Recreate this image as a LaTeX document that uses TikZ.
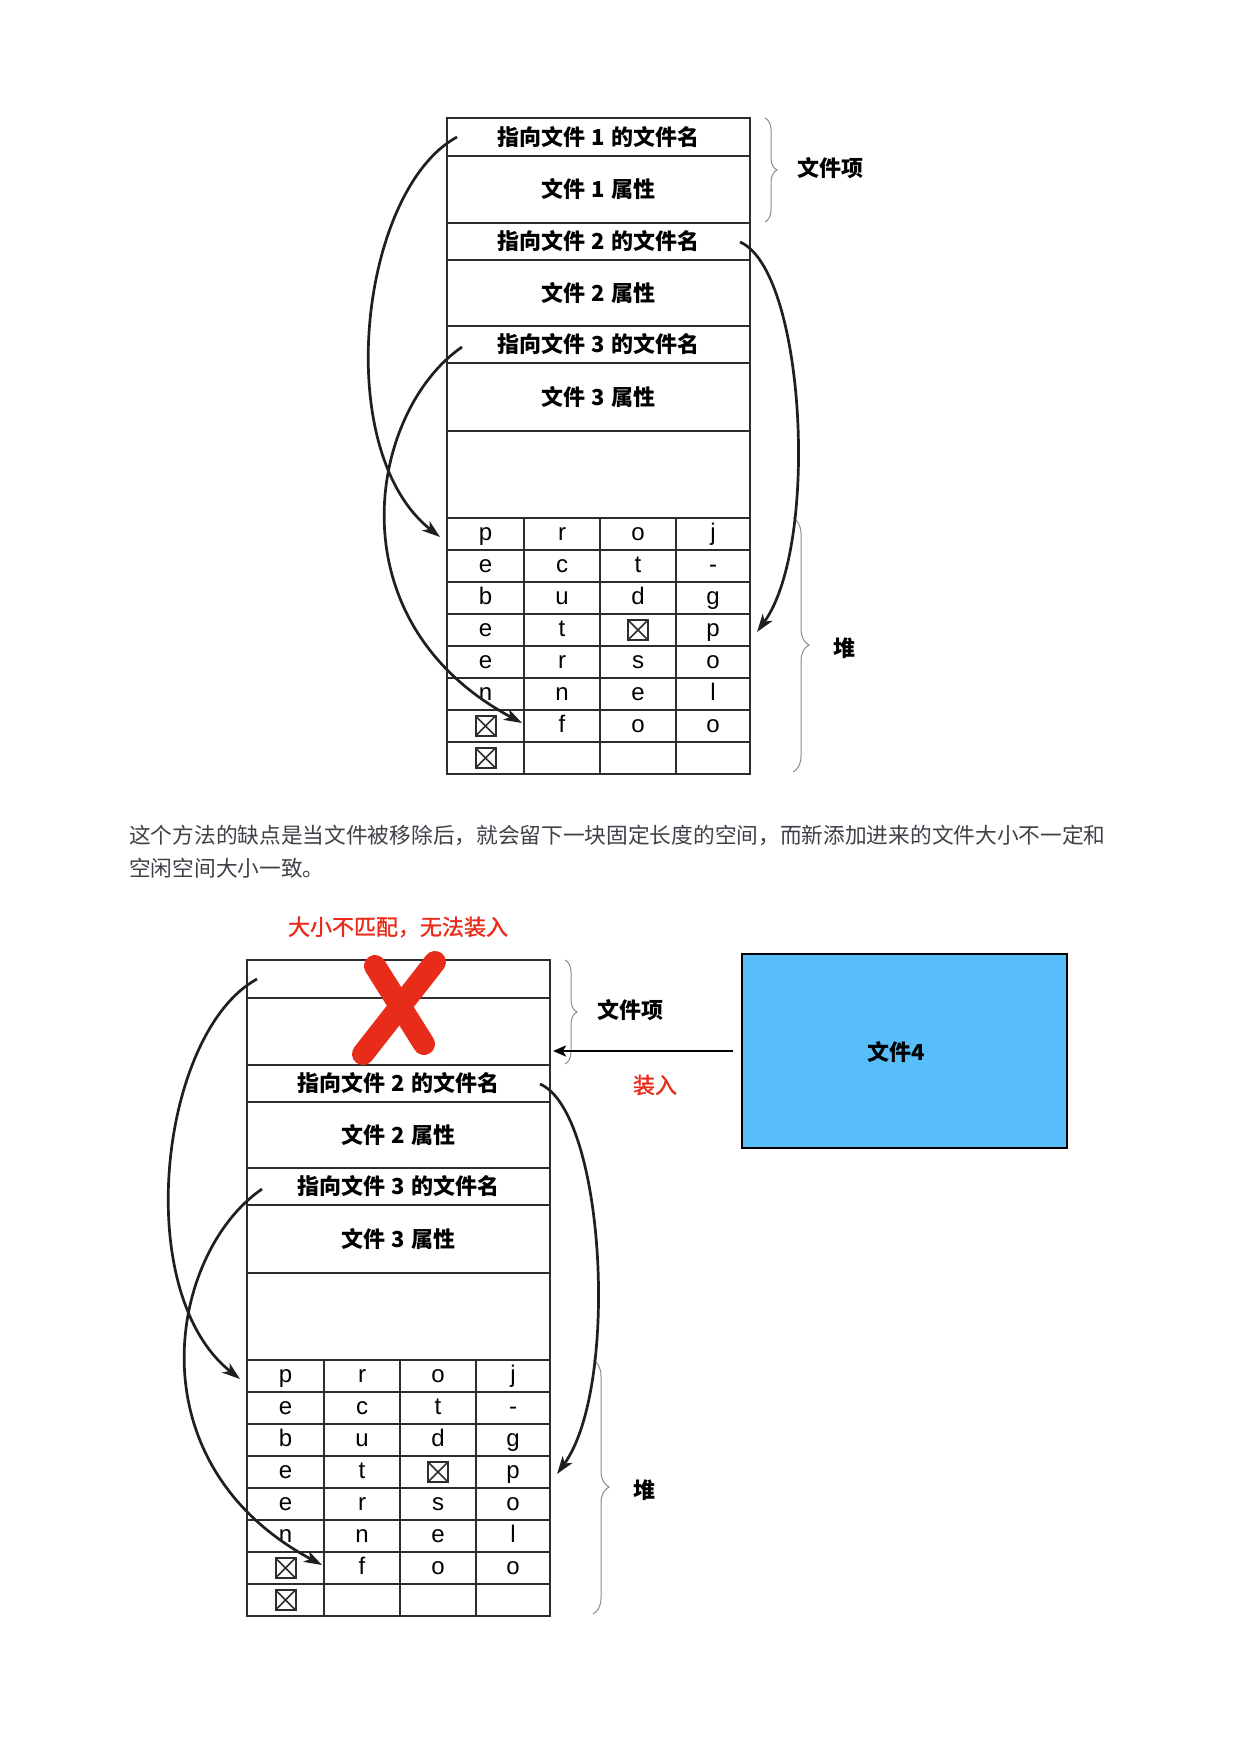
\documentclass[tikz,border=0pt]{standalone}
\usepackage{fontspec}
\setmainfont{Noto Sans CJK SC}
\newfontfamily\latinfont{Liberation Sans}
\newcommand{\dg}[1]{\kern6.5pt#1\kern6.5pt}
\usetikzlibrary{arrows.meta,decorations.pathreplacing,calc}
\definecolor{linegray}{RGB}{45,45,45}
\definecolor{txtgray}{RGB}{62,66,72}
\definecolor{redmark}{RGB}{233,43,25}
\definecolor{fileblue}{RGB}{87,190,250}
\definecolor{bracegray}{RGB}{140,140,140}
\tikzset{
  rowbox/.style={draw=linegray, line width=2.3pt, minimum width=303pt, inner sep=0pt,
    font=\bfseries\fontsize{22}{26}\selectfont, text height=19pt, text depth=2.4pt},
  cell/.style={draw=linegray, line width=2.3pt, minimum height=32pt, inner sep=0pt,
    font=\latinfont\fontsize{24}{28}\selectfont, text height=18pt, text depth=6pt},
  xbox/.style={draw=linegray, line width=2pt, minimum size=20pt, inner sep=0pt,
    path picture={\draw[linegray, line width=1.6pt]
      (path picture bounding box.north west) -- (path picture bounding box.south east)
      (path picture bounding box.north east) -- (path picture bounding box.south west);}},
  ptr/.style={draw=black!88, line width=2.7pt, -{Stealth[length=18pt, width=12pt, inset=5pt]}},
  brc/.style={draw=bracegray, line width=1pt, decorate},
  side/.style={font=\bfseries\fontsize{22}{26}\selectfont, inner sep=0pt},
  redtxt/.style={text=redmark, font=\fontsize{22}{26}\selectfont\addfontfeature{FakeBold=1.2}, inner sep=0pt},
  para/.style={text=txtgray, font=\fontsize{21.7}{26}\selectfont, inner sep=0pt, anchor=base west},
  loadarrow/.style={draw=black, line width=2.4pt, -{Stealth[length=13pt, width=11pt, inset=3pt]}},
  redx/.style={draw=redmark, line width=22pt, line cap=round}
}
\newcommand{\fsblock}[4]{%
\begin{scope}[shift={#2}]
  \node[rowbox, minimum height=38pt] (#1n1) at (151.5,19) {#3};
  \node[rowbox, minimum height=67pt] (#1a1) at (151.5,71.5) {#4};
  \node[rowbox, minimum height=37pt] (#1n2) at (151.5,123.5) {指向文件\dg{2}的文件名};
  \node[rowbox, minimum height=66pt] (#1a2) at (151.5,175) {文件\dg{2}属性};
  \node[rowbox, minimum height=37pt] (#1n3) at (151.5,226.5) {指向文件\dg{3}的文件名};
  \node[rowbox, minimum height=68pt] (#1a3) at (151.5,279) {文件\dg{3}属性};
  \node[rowbox, minimum height=87pt] (#1free) at (151.5,356.5) {};
  \foreach \r/\ca/\cb/\cc/\cd in {1/p/r/o/j,2/e/c/t/-,3/b/u/d/g,4/e/t/{}/p,5/e/r/s/o,6/n/n/e/l,7/{}/f/o/o,8/{}/{}/{}/{}}{
    \node[cell, minimum width=77pt] (#1c\r-1) at (38.5,{384+32*\r}) {\ca};
    \node[cell, minimum width=76pt] (#1c\r-2) at (115,{384+32*\r}) {\cb};
    \node[cell, minimum width=76pt] (#1c\r-3) at (191,{384+32*\r}) {\cc};
    \node[cell, minimum width=74pt] (#1c\r-4) at (266,{384+32*\r}) {\cd};
  }
  \node[xbox] (#1x4-3) at (#1c4-3) {};
  \node[xbox] (#1x7-1) at (#1c7-1) {};
  \node[xbox] (#1x8-1) at (#1c8-1) {};
  % braces and side labels
  \coordinate (#1bt) at (318,0);
  \coordinate (#1bb) at (318,104);
  \draw[brc, decoration={brace, amplitude=12pt}] (#1bt) -- (#1bb);
  \node[side] (#1lab1) at (383,50) {文件项};
  \coordinate (#1ht) at (346,400);
  \coordinate (#1hb) at (346,654);
  \draw[brc, decoration={brace, amplitude=16pt}] (#1ht) -- (#1hb);
  \node[side] (#1lab2) at (397,530) {堆};
  % pointers
  \coordinate (#1s1) at (10,19);
  \coordinate (#1e1) at (-7,419);
  \coordinate (#1s2) at (293,124);
  \coordinate (#1e2) at (310,514);
  \coordinate (#1s3) at (15,229);
  \coordinate (#1e3) at (75,605);
  \draw[ptr] (#1s1) .. controls (-87,72) and (-117,332) .. (#1e1);
  \draw[ptr] (#1s2) .. controls (358,152) and (373,427) .. (#1e2);
  \draw[ptr] (#1s3) .. controls (-77,292) and (-117,502) .. (#1e3);
\end{scope}}
\begin{document}
\begin{tikzpicture}[x=1pt,y=-1pt]
\fill[white] (0,0) rectangle (1240,1754);
\useasboundingbox (0,0) rectangle (1240,1754);
% upper diagram
\fsblock{u}{(447,118)}{指向文件\dg{1}的文件名}{文件\dg{1}属性}
% paragraph
\node[para] (p1) at (129,843) {这个方法的缺点是当文件被移除后，就会留下一块固定长度的空间，而新添加进来的文件大小不一定和};
\node[para] (p2) at (129,876) {空闲空间大小一致。};
% lower diagram
\node[redtxt] (title) at (398,927) {大小不匹配，无法装入};
\fsblock{l}{(247,960)}{}{}
% red cross
\coordinate (xa1) at (375,966);
\coordinate (xa2) at (424,1044);
\coordinate (xb1) at (435,962);
\coordinate (xb2) at (363,1054);
\draw[redx] (xa1) -- (xa2);
\draw[redx] (xb1) -- (xb2);
% file 4
\node[draw=black, line width=1.2pt, fill=fileblue, minimum width=325pt, minimum height=194pt] (file4) at (904.5,1051) {};
\node[font=\bfseries\fontsize{22}{26}\selectfont, inner sep=0pt, text height=19pt, text depth=2.4pt] (file4txt) at (896,1052) {文件4};
\coordinate (tgt) at (553,1051);
\draw[loadarrow] ($(file4.west)+(-8,0)$) -- (tgt);
\node[redtxt] (load) at (655,1085) {装入};
\end{tikzpicture}
\end{document}
